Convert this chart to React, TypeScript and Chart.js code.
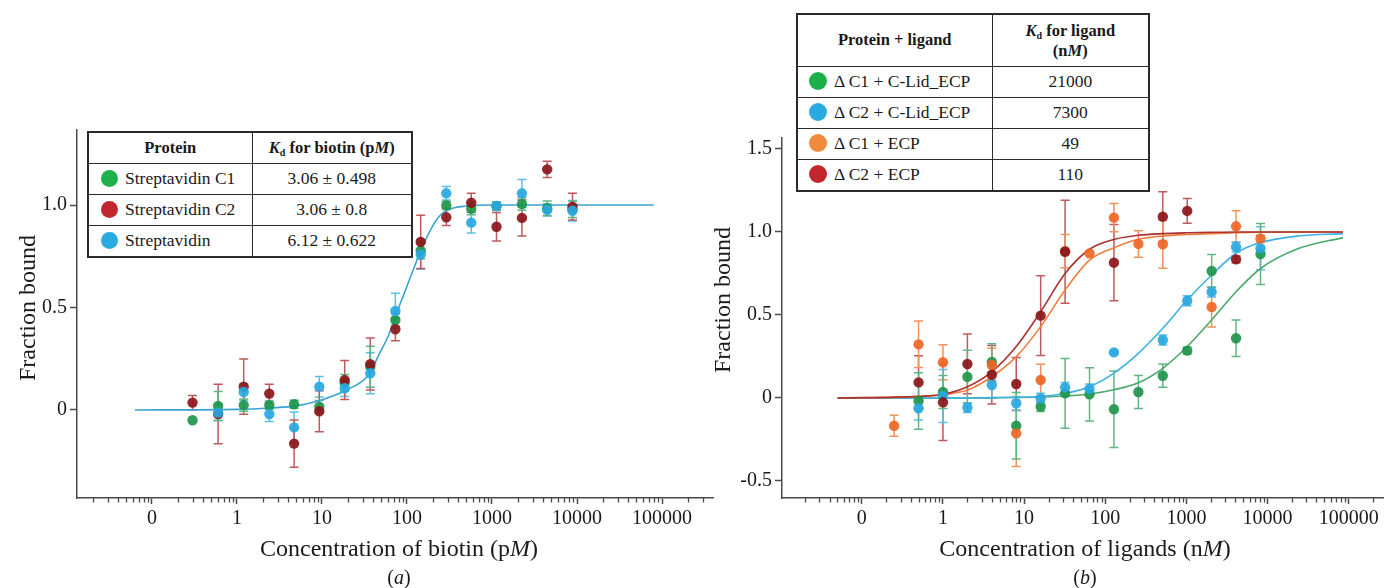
import React, { useEffect, useRef } from "react";
import { Chart, registerables } from "chart.js";

Chart.register(...registerables);

const SERIF = "'Liberation Serif', 'Times New Roman', Times, serif";
const AXIS = "#4a4a4a";

// ---------------- Panel (a): biotin ----------------
const biotinConc = [0.3, 0.6, 1.2, 2.4, 4.7, 9.3, 18.5, 37, 73, 145, 290, 570, 1130, 2250, 4460, 8850];
const c1Values = [-0.05, 0.02, 0.024, 0.024, 0.028, 0.016, 0.133, 0.211, 0.439, 0.777, 0.998, 0.982, 0.995, 1.005, 0.984, 0.979];
const c1Err = [0, 0.07, 0.03, 0.02, 0.02, 0.03, 0.04, 0.1, 0.03, 0.04, 0.02, 0.03, 0.02, 0.03, 0.035, 0.04];
const c2Values = [0.036, -0.02, 0.114, 0.08, -0.164, -0.006, 0.146, 0.224, 0.394, 0.82, 0.94, 1.011, 0.894, 0.937, 1.174, 0.992];
const c2Err = [0.035, 0.145, 0.135, 0.045, 0.115, 0.1, 0.095, 0.127, 0.056, 0.13, 0.04, 0.046, 0.07, 0.088, 0.04, 0.065];
const wtValues = [null, -0.013, 0.088, -0.02, -0.085, 0.114, 0.106, 0.179, 0.483, 0.759, 1.057, 0.914, 0.995, 1.057, 0.976, 0.972];
const wtErr = [0, 0.04, 0.04, 0.036, 0.075, 0.05, 0.04, 0.1, 0.086, 0.073, 0.033, 0.05, 0.02, 0.068, 0.03, 0.05];
const fitAX = [0.063, 1, 2.5, 5, 10, 20, 35, 48, 60, 75, 95, 120, 150, 190, 240, 320, 500, 1000, 80000];
const fitAY = [0, 0.003, 0.01, 0.02, 0.05, 0.1, 0.17, 0.28, 0.36, 0.47, 0.58, 0.69, 0.79, 0.88, 0.945, 0.98, 0.995, 1.0, 1.0];

// ---------------- Panel (b): ligands ----------------
const ligandConc = [0.25, 0.5, 1, 2, 4, 8, 16, 32, 64, 128, 256, 512, 1024, 2048, 4096, 8192];
const c1LidValues = [null, -0.018, 0.036, 0.127, 0.217, -0.167, -0.052, 0.028, 0.022, -0.068, 0.036, 0.134, 0.285, 0.765, 0.36, 0.867];
const c1LidErr = [0, 0.17, 0.1, 0.16, 0.11, 0.2, 0.03, 0.21, 0.16, 0.23, 0.1, 0.07, 0.02, 0.1, 0.11, 0.184];
const c2LidValues = [null, -0.062, 0.012, -0.058, 0.078, -0.032, -0.002, 0.064, 0.054, 0.275, null, 0.349, 0.586, 0.639, 0.91, 0.902];
const c2LidErr = [0, 0.07, 0.16, 0.03, 0.08, 0.04, 0.03, 0.03, 0.03, 0.01, 0, 0.03, 0.03, 0.03, 0.03, 0.13];
const c1EcpValues = [-0.167, 0.323, 0.215, null, 0.199, -0.213, 0.108, 0.885, 0.871, 1.086, 0.928, 0.926, null, 0.548, 1.034, 0.96];
const c1EcpErr = [0.063, 0.14, 0.105, 0, 0.1, 0.2, 0.095, 0.1, 0, 0.085, 0.08, 0.145, 0, 0.12, 0.094, 0.02];
const c2EcpValues = [null, 0.094, -0.026, 0.205, 0.14, 0.084, 0.496, 0.881, null, 0.815, null, 1.092, 1.127, null, 0.835, null];
const c2EcpErr = [0, 0.16, 0.23, 0.18, 0.176, 0.16, 0.24, 0.31, 0, 0.23, 0, 0.15, 0.075, 0, 0.02, 0];
const fitBX = [0.05, 0.5, 1, 2, 4, 8, 16, 32, 64, 128, 256, 512, 1024, 2048, 4096, 8192, 24000, 85000];
const fitC2EcpY = [0, 0.01, 0.022, 0.068, 0.158, 0.31, 0.52, 0.75, 0.896, 0.955, 0.98, 0.99, 0.995, 0.998, 1, 1, 1, 1];
const fitC1EcpY = [0, 0.008, 0.02, 0.048, 0.128, 0.249, 0.43, 0.65, 0.83, 0.905, 0.956, 0.976, 0.985, 0.99, 0.995, 0.998, 1, 1];
const fitC2LidY = [0, 0, 0, 0, 0.002, 0.004, 0.008, 0.028, 0.068, 0.15, 0.269, 0.42, 0.59, 0.741, 0.872, 0.936, 0.976, 0.99];
const fitC1LidY = [0, 0, 0, 0, 0.001, 0.003, 0.006, 0.012, 0.024, 0.05, 0.092, 0.179, 0.31, 0.47, 0.64, 0.78, 0.9, 0.966];

// ---------------- Ticks & texts ----------------
const decadeValues = [0.1, 1, 10, 100, 1000, 10000, 100000];
const decadeLabels = ["0", "1", "10", "100", "1000", "10000", "100000"];
const minorMultipliers = [2, 3, 4, 5, 6, 7, 8, 9];
const yTicksA = [0, 0.5, 1.0];
const yTicksB = [-0.5, 0, 0.5, 1.0, 1.5];

const tableANames = ["Streptavidin C1", "Streptavidin C2", "Streptavidin"];
const tableAKd = ["3.06 ± 0.498", "3.06 ± 0.8", "6.12 ± 0.622"];
const tableAColors = ["#1fb04b", "#c1272d", "#29aae1"];
const tableBNames = ["Δ C1 + C-Lid_ECP", "Δ C2 + C-Lid_ECP", "Δ C1 + ECP", "Δ C2 + ECP"];
const tableBKd = ["21000", "7300", "49", "110"];
const tableBColors = ["#1db04a", "#29aae1", "#f08a3c", "#c1272d"];

const COLORS = {
  green: { pt: "rgba(30,150,75,0.92)", err: "#5fb683", fit: "#4aa96c" },
  darkred: { pt: "rgba(140,22,26,0.92)", err: "#c0595b", fit: "#a8322f" },
  blue: { pt: "rgba(40,168,226,0.92)", err: "#5cbfe9", fit: "#3fb0e5" },
  orange: { pt: "rgba(238,102,38,0.92)", err: "#f1925c", fit: "#f07d3c" },
};

function pointSeries(xs: number[], ys: (number | null)[], errs: number[], color: any) {
  const data: any[] = [];
  const errors: number[] = [];
  xs.forEach((x, i) => {
    const y = ys[i];
    if (y === null || y === undefined) return;
    data.push({ x, y });
    errors.push(errs[i]);
  });
  return {
    type: "scatter",
    data,
    errors,
    errorColor: color.err,
    showLine: false,
    pointRadius: 5.2,
    pointHoverRadius: 5.2,
    pointBackgroundColor: color.pt,
    pointBorderWidth: 0,
    borderColor: color.pt,
  };
}

function fitSeries(xs: number[], ys: number[], color: string) {
  return {
    type: "line",
    data: xs.map((x, i) => ({ x, y: ys[i] })),
    showLine: true,
    borderColor: color,
    borderWidth: 1.6,
    pointRadius: 0,
    fill: false,
    cubicInterpolationMode: "monotone",
  };
}

const errorBarPlugin = {
  id: "errorBars",
  beforeDatasetsDraw(chart: any) {
    const ctx = chart.ctx;
    const yScale = chart.scales.y;
    chart.data.datasets.forEach((ds: any, di: number) => {
      if (!ds.errors) return;
      const meta = chart.getDatasetMeta(di);
      ctx.save();
      ctx.strokeStyle = ds.errorColor;
      ctx.lineWidth = 1.5;
      meta.data.forEach((el: any, i: number) => {
        const e = ds.errors[i];
        if (!e) return;
        const v = ds.data[i].y;
        const x = el.x;
        const yT = yScale.getPixelForValue(v + e);
        const yB = yScale.getPixelForValue(v - e);
        ctx.beginPath();
        ctx.moveTo(x, yT);
        ctx.lineTo(x, yB);
        ctx.moveTo(x - 4.5, yT);
        ctx.lineTo(x + 4.5, yT);
        ctx.moveTo(x - 4.5, yB);
        ctx.lineTo(x + 4.5, yB);
        ctx.stroke();
      });
      ctx.restore();
    });
  },
};

const minorTickPlugin = {
  id: "minorTicks",
  afterDraw(chart: any) {
    const s = chart.scales.x;
    const ctx = chart.ctx;
    ctx.save();
    ctx.strokeStyle = AXIS;
    ctx.lineWidth = 1.3;
    s.ticks.forEach((t: any) => {
      if (t.major) return;
      const x = Math.round(s.getPixelForValue(t.value)) + 0.5;
      ctx.beginPath();
      ctx.moveTo(x, s.top);
      ctx.lineTo(x, s.top + 4.5);
      ctx.stroke();
    });
    ctx.restore();
  },
};

function xTickLabel(v: number) {
  for (let i = 0; i < decadeValues.length; i++) {
    if (Math.abs(Math.log10(v) - Math.log10(decadeValues[i])) < 1e-6) return decadeLabels[i];
  }
  return "";
}

function buildConfig(opts: any) {
  const { datasets, xMin, xMax, yMin, yMax, yTicks, padTop, padRight, yWidth, xHeight } = opts;
  return {
    type: "scatter",
    data: { datasets },
    plugins: [errorBarPlugin, minorTickPlugin],
    options: {
      responsive: false,
      animation: false,
      devicePixelRatio: 1,
      events: [],
      layout: { padding: { top: padTop, right: padRight, left: 0, bottom: 0 } },
      plugins: { legend: { display: false }, tooltip: { enabled: false } },
      scales: {
        x: {
          type: "logarithmic",
          min: xMin,
          max: xMax,
          afterFit: (s: any) => {
            s.height = xHeight;
          },
          afterBuildTicks: (s: any) => {
            const ticks: any[] = [];
            for (let e = -2; e <= 6; e++) {
              const d = Math.pow(10, e);
              if (d >= s.min && d <= s.max) ticks.push({ value: d, major: true });
              minorMultipliers.forEach((m) => {
                const v = m * d;
                if (v >= s.min && v <= s.max) ticks.push({ value: v, major: false });
              });
            }
            ticks.sort((a, b) => a.value - b.value);
            s.ticks = ticks;
          },
          border: { display: true, color: AXIS, width: 1.5 },
          grid: {
            display: true,
            drawOnChartArea: false,
            drawTicks: true,
            tickLength: 6,
            tickWidth: 1.5,
            tickColor: (c: any) => (c.tick && c.tick.major ? AXIS : "rgba(0,0,0,0)"),
          },
          ticks: {
            autoSkip: false,
            maxRotation: 0,
            minRotation: 0,
            padding: 3,
            color: "#1a1a1a",
            font: { family: SERIF, size: 20 },
            callback: (v: any) => xTickLabel(Number(v)),
          },
        },
        y: {
          type: "linear",
          min: yMin,
          max: yMax,
          afterFit: (s: any) => {
            s.width = yWidth;
          },
          afterBuildTicks: (s: any) => {
            s.ticks = yTicks.map((v: number) => ({ value: v }));
          },
          border: { display: true, color: AXIS, width: 1.5 },
          grid: {
            display: true,
            drawOnChartArea: false,
            drawTicks: true,
            tickLength: 7,
            tickWidth: 1.5,
            tickColor: AXIS,
          },
          ticks: {
            autoSkip: false,
            padding: 3,
            color: "#1a1a1a",
            font: { family: SERIF, size: 20 },
            callback: (v: any) => (Number(v) === 0 ? "0" : Number(v).toFixed(1)),
          },
        },
      },
    },
  };
}

function configA() {
  return buildConfig({
    datasets: [
      pointSeries(biotinConc, wtValues, wtErr, COLORS.blue),
      pointSeries(biotinConc, c2Values, c2Err, COLORS.darkred),
      pointSeries(biotinConc, c1Values, c1Err, COLORS.green),
      fitSeries(fitAX, fitAY, "#3ba3d4"),
    ],
    xMin: 0.01312,
    xMax: 398000,
    yMin: -0.4293,
    yMax: 1.3659,
    yTicks: yTicksA,
    padTop: 130,
    padRight: 17,
    yWidth: 77,
    xHeight: 90,
  });
}

function configB() {
  return buildConfig({
    datasets: [
      pointSeries(ligandConc, c2EcpValues, c2EcpErr, COLORS.darkred),
      pointSeries(ligandConc, c1EcpValues, c1EcpErr, COLORS.orange),
      pointSeries(ligandConc, c2LidValues, c2LidErr, COLORS.blue),
      pointSeries(ligandConc, c1LidValues, c1LidErr, COLORS.green),
      fitSeries(fitBX, fitC2EcpY, COLORS.darkred.fit),
      fitSeries(fitBX, fitC1EcpY, COLORS.orange.fit),
      fitSeries(fitBX, fitC2LidY, COLORS.blue.fit),
      fitSeries(fitBX, fitC1LidY, COLORS.green.fit),
    ],
    xMin: 0.01038,
    xMax: 271000,
    yMin: -0.6024,
    yMax: 1.566,
    yTicks: yTicksB,
    padTop: 138,
    padRight: 4,
    yWidth: 42,
    xHeight: 90,
  });
}

function ChartCanvas({ make, left, width }: { make: () => any; left: number; width: number }) {
  const ref = useRef<HTMLCanvasElement>(null);
  useEffect(() => {
    const chart = new Chart(ref.current as HTMLCanvasElement, make());
    return () => chart.destroy();
  }, []);
  return (
    <canvas
      ref={ref}
      width={width}
      height={588}
      style={{ position: "absolute", left, top: 0, width, height: 588 }}
    />
  );
}

const border = "1.5px solid #2b2b2b";

function Dot({ color, size }: { color: string; size: number }) {
  return (
    <span
      style={{
        display: "inline-block",
        width: size,
        height: size,
        borderRadius: "50%",
        background: color,
        verticalAlign: "middle",
        marginRight: 7,
        position: "relative",
        top: -1,
      }}
    />
  );
}

function TableA() {
  const td: any = { border, padding: 0, height: 30, lineHeight: 1, verticalAlign: "middle" };
  return (
    <table
      style={{
        position: "absolute",
        left: 87,
        top: 131,
        width: 324,
        borderCollapse: "collapse",
        border: "2px solid #2b2b2b",
        fontFamily: SERIF,
        fontSize: 17.5,
        color: "#1a1a1a",
        background: "#fff",
        tableLayout: "fixed",
      }}
    >
      <colgroup>
        <col style={{ width: 164 }} />
        <col style={{ width: 160 }} />
      </colgroup>
      <tbody>
        <tr>
          <td style={{ ...td, textAlign: "center", fontWeight: "bold", fontSize: 16.5 }}>Protein</td>
          <td style={{ ...td, textAlign: "center", fontWeight: "bold", fontSize: 16.5 }}>
            <i>K</i>
            <span style={{ fontSize: 10, position: "relative", top: 3 }}>d</span> for biotin (p<i>M</i>)
          </td>
        </tr>
        {tableANames.map((n, i) => (
          <tr key={n}>
            <td style={{ ...td, paddingLeft: 12, whiteSpace: "nowrap" }}>
              <Dot color={tableAColors[i]} size={17} />
              {n}
            </td>
            <td style={{ ...td, textAlign: "center" }}>{tableAKd[i]}</td>
          </tr>
        ))}
      </tbody>
    </table>
  );
}

function TableB() {
  const td: any = { border, padding: 0, height: 30, lineHeight: 1, verticalAlign: "middle" };
  return (
    <table
      style={{
        position: "absolute",
        left: 796,
        top: 13,
        width: 352,
        borderCollapse: "collapse",
        border: "2px solid #2b2b2b",
        fontFamily: SERIF,
        fontSize: 17.5,
        color: "#1a1a1a",
        background: "#fff",
        tableLayout: "fixed",
      }}
    >
      <colgroup>
        <col style={{ width: 195 }} />
        <col style={{ width: 157 }} />
      </colgroup>
      <tbody>
        <tr>
          <td style={{ ...td, height: 51, textAlign: "center", fontWeight: "bold", fontSize: 16.5 }}>Protein + ligand</td>
          <td style={{ ...td, height: 51, textAlign: "center", fontWeight: "bold", fontSize: 16.5, lineHeight: 1.2 }}>
            <i>K</i>
            <span style={{ fontSize: 10, position: "relative", top: 3 }}>d</span> for ligand
            <br />
            (n<i>M</i>)
          </td>
        </tr>
        {tableBNames.map((n, i) => (
          <tr key={n}>
            <td style={{ ...td, paddingLeft: 11, whiteSpace: "nowrap" }}>
              <Dot color={tableBColors[i]} size={18} />
              {n}
            </td>
            <td style={{ ...td, textAlign: "center" }}>{tableBKd[i]}</td>
          </tr>
        ))}
      </tbody>
    </table>
  );
}

function Label({ x, y, size, rotate, children }: any) {
  return (
    <div
      style={{
        position: "absolute",
        left: x,
        top: y,
        transform: `translate(-50%, -50%)${rotate ? " rotate(-90deg)" : ""}`,
        whiteSpace: "nowrap",
        fontFamily: SERIF,
        fontSize: size,
        lineHeight: 1,
        color: "#1a1a1a",
      }}
    >
      {children}
    </div>
  );
}

export default function App() {
  return (
    <div style={{ position: "absolute", left: 0, top: 0, width: 1389, height: 588, overflow: "hidden", background: "#fff" }}>
      <ChartCanvas make={configA} left={0} width={730} />
      <ChartCanvas make={configB} left={740} width={649} />
      <TableA />
      <TableB />
      <Label x={27} y={308} size={24} rotate>
        Fraction bound
      </Label>
      <Label x={399} y={548} size={24}>
        Concentration of biotin (p<i>M</i>)
      </Label>
      <Label x={399} y={577} size={20}>
        (<i>a</i>)
      </Label>
      <Label x={722} y={300} size={24} rotate>
        Fraction bound
      </Label>
      <Label x={1085} y={548} size={24}>
        Concentration of ligands (n<i>M</i>)
      </Label>
      <Label x={1085} y={577} size={20}>
        (<i>b</i>)
      </Label>
    </div>
  );
}
